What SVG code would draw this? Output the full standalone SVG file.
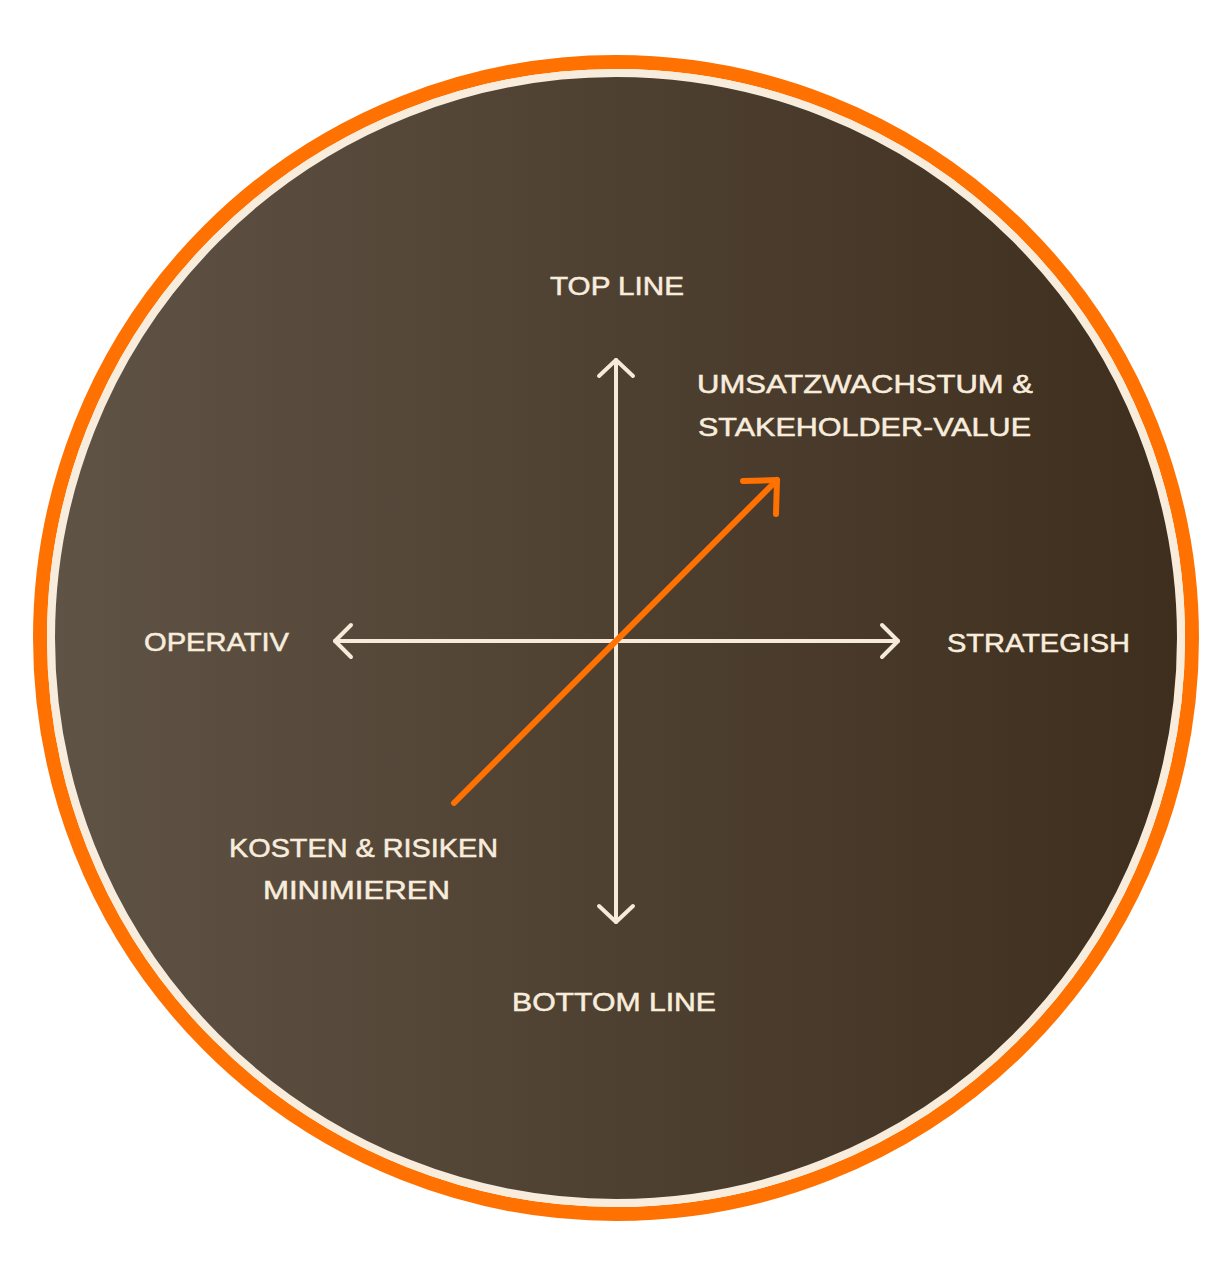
<svg xmlns="http://www.w3.org/2000/svg" width="1232" height="1280" viewBox="0 0 1232 1280">
  <defs>
    <linearGradient id="bg" x1="0" y1="0" x2="1" y2="0">
      <stop offset="0" stop-color="#5f5345"/>
      <stop offset="1" stop-color="#3e2e1e"/>
    </linearGradient>
    <style>
      .lbl { font-family: "Liberation Sans", Arial, sans-serif; font-size: 25px; fill: #f8eddd; stroke: #f8eddd; stroke-width: 0.5px; }
      .ax { stroke: #f6eadb; stroke-width: 4; fill: none; stroke-linecap: round; stroke-linejoin: round; }
      .or { stroke: #ff7100; stroke-width: 6; fill: none; stroke-linecap: round; stroke-linejoin: round; }
    </style>
  </defs>
  <rect width="1232" height="1280" fill="#ffffff"/>
  <g id="circle">
    <circle cx="616" cy="638" r="576" fill="none" stroke="#ff7100" stroke-width="14"/>
    <circle cx="616" cy="638" r="565" fill="url(#bg)" stroke="#f8eddd" stroke-width="8"/>
  </g>
  <g id="connectors">
    <path class="ax" d="M616 360 V922"/>
    <path class="ax" d="M599 376 L616 360 L633 376"/>
    <path class="ax" d="M599 906 L616 922 L633 906"/>
    <path class="ax" d="M335 641 H898"/>
    <path class="ax" d="M351 625 L335 641 L351 657"/>
    <path class="ax" d="M882 625 L898 641 L882 657"/>
    <path class="or" d="M454 803 L777 480"/>
    <path class="or" d="M743 481 L777 480 L776 514"/>
  </g>
  <g id="top-line"><text class="lbl" x="550" y="295" textLength="134" lengthAdjust="spacingAndGlyphs">TOP LINE</text></g>
  <g id="umsatz">
    <text class="lbl" x="697" y="393" textLength="336" lengthAdjust="spacingAndGlyphs">UMSATZWACHSTUM &amp;</text>
    <text class="lbl" x="698" y="436" textLength="333" lengthAdjust="spacingAndGlyphs">STAKEHOLDER-VALUE</text>
  </g>
  <g id="operativ"><text class="lbl" x="144" y="651" textLength="145" lengthAdjust="spacingAndGlyphs">OPERATIV</text></g>
  <g id="strategish"><text class="lbl" x="947" y="652" textLength="183" lengthAdjust="spacingAndGlyphs">STRATEGISH</text></g>
  <g id="kosten">
    <text class="lbl" x="229" y="857" textLength="269" lengthAdjust="spacingAndGlyphs">KOSTEN &amp; RISIKEN</text>
    <text class="lbl" x="263" y="899" textLength="187" lengthAdjust="spacingAndGlyphs">MINIMIEREN</text>
  </g>
  <g id="bottom-line"><text class="lbl" x="512" y="1011" textLength="204" lengthAdjust="spacingAndGlyphs">BOTTOM LINE</text></g>
</svg>
